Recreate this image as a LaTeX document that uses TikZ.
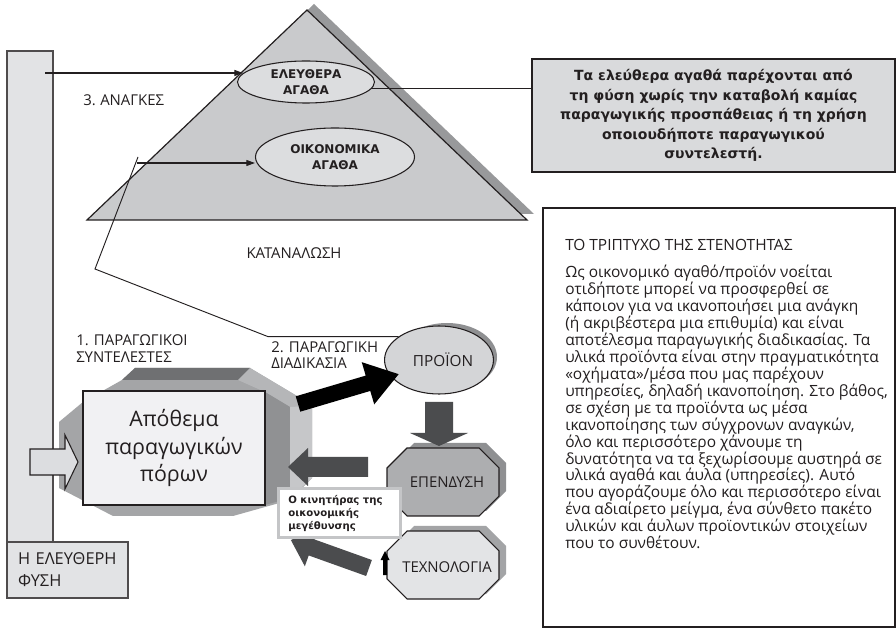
\documentclass[tikz,border=0pt]{standalone}
\usepackage{fontspec}
\setmainfont{Open Sans}
\newfontfamily\vbold{DejaVu Sans}
\usetikzlibrary{arrows.meta,shapes.geometric,calc}
\definecolor{ink}{HTML}{231F20}
\definecolor{tri}{HTML}{C9CACC}
\definecolor{trish}{HTML}{98999B}
\definecolor{barf}{HTML}{E2E3E5}
\definecolor{ellf}{HTML}{DCDDDF}
\definecolor{gboxf}{HTML}{D9DADC}
\definecolor{prodf}{HTML}{D4D5D7}
\definecolor{shd}{HTML}{8F9092}
\definecolor{invf}{HTML}{ADAEB0}
\definecolor{techf}{HTML}{E3E4E6}
\definecolor{techsh}{HTML}{A3A4A6}
\definecolor{darkarr}{HTML}{4B4C4E}
\definecolor{prmid}{HTML}{A4A5A7}
\definecolor{prdark}{HTML}{6F7072}
\definecolor{prlight}{HTML}{B5B6B8}
\definecolor{prrdark}{HTML}{909193}
\definecolor{prrlight}{HTML}{C6C7C9}
\definecolor{stockf}{HTML}{F1F1F3}
\definecolor{engb}{HTML}{C4C5C7}
\definecolor{hollowf}{HTML}{DCDDE0}
\newcommand{\blockarr}[7]{%
  \begin{scope}[shift={#2}, rotate=#3]
    \path[#1] (0,-#5/2) -- (#4-#7,-#5/2) -- (#4-#7,-#6/2) -- (#4,0) -- (#4-#7,#6/2) -- (#4-#7,#5/2) -- (0,#5/2) -- cycle;
  \end{scope}}
\tikzset{
  lbl/.style={font=\fontsize{11.2}{13}\selectfont, align=left, inner sep=0pt, text=ink},
  ellst/.style={ellipse, draw=ink, line width=0.8pt, fill=ellf, inner sep=0pt, align=center, text=ink, font=\vbold\bfseries\fontsize{9}{11.5}\selectfont},
  barst/.style={draw=ink!80, line width=0.9pt, fill=barf, text=ink},
  thinarr/.style={draw=ink, line width=0.8pt, -{Triangle[length=6.5pt,width=4.5pt]}},
  thinline/.style={draw=ink, line width=0.7pt},
  pics/octo/.style={code={\path[pic actions] (-36,-34) -- (36,-34) -- (56,-14) -- (56,14) -- (36,34) -- (-36,34) -- (-56,14) -- (-56,-14) -- cycle;}}
}
\begin{document}
\begin{tikzpicture}[x=0.75pt,y=-0.75pt]
\useasboundingbox (0,0) rectangle (896,630);
\fill[white] (0,0) rectangle (896,630);

% left bar and nature box
\node[barst, minimum width=34.5pt, minimum height=368.25pt] (bar) at (30,296.5) {};
\node[barst, minimum width=90.75pt, minimum height=42pt, inner xsep=4pt, text width=82pt, align=left, font=\fontsize{12.3}{16.5}\selectfont] (nature) at (67.5,570) {\hspace*{4pt}Η ΕΛΕΥΘΕΡΗ\\\hspace*{4pt}ΦΥΣΗ};

% triangle
\fill[trish] (314,4) -- (534,214) -- (94,214) -- cycle;
\draw[fill=tri, line width=0.9pt, draw=ink] (307,10) -- (527,220) -- (87,220) -- cycle;

% ellipses in the triangle
\node[ellst, minimum width=102.75pt, minimum height=31.5pt] (elef) at (306,82) {ΕΛΕΥΘΕΡΑ\\ΑΓΑΘΑ};
\node[ellst, minimum width=119.25pt, minimum height=43.5pt] (oik) at (335,157) {ΟΙΚΟΝΟΜΙΚΑ\\ΑΓΑΘΑ};

% grey note box
\node[draw=ink, fill=gboxf, line width=0.9pt, minimum width=272.25pt, minimum height=84.75pt, align=center, text=ink, font=\vbold\bfseries\fontsize{10.5}{14.6}\selectfont] (gb) at (713.5,115.5) {Τα ελεύθερα αγαθά παρέχονται από\\τη φύση χωρίς την καταβολή καμίας\\παραγωγικής προσπάθειας ή τη χρήση\\οποιουδήποτε παραγωγικού\\συντελεστή.};

% connectors at the top
\coordinate (a1) at (45,73);
\draw[thinarr] (a1) -- (a1 -| elef.172);
\draw[thinline] (elef.-6) -- (elef.-6 -| gb.west);
\coordinate (a2) at (137,163);
\draw[thinarr] (a2) -- (a2 -| oik.west);

% labels
\node[lbl, anchor=west] (needs) at (83,100) {3.\hspace{0.3em}ΑΝΑΓΚΕΣ};
\node[lbl] (cons) at (294,253) {ΚΑΤΑΝΑΛΩΣΗ};
\node[lbl, anchor=west] (pf) at (76,348.5) {1. ΠΑΡΑΓΩΓΙΚΟΙ\\ΣΥΝΤΕΛΕΣΤΕΣ};
\node[lbl, anchor=west, font=\fontsize{11.2}{12}\selectfont] (pp) at (271,355.5) {2. ΠΑΡΑΓΩΓΙΚΗ\\ΔΙΑΔΙΚΑΣΙΑ};

% product ellipse
\node[ellipse, fill=shd, minimum width=75pt, minimum height=51pt] (prodsh) at (447,357) {};
\node[ellipse, draw=ink, line width=0.8pt, fill=prodf, minimum width=75pt, minimum height=51pt, text=ink, font=\fontsize{11.5}{12}\selectfont] (prod) at (439,360) {\hspace{6pt}ΠΡΟΪΟΝ};

% polyline from product back to needs
\coordinate (k1) at (268,338);
\coordinate (k2) at (95,269);
\coordinate (k3) at (138,157);
\draw[thinline] (prod.150) -- (k1 |- prod.150) -- (k2) -- (k3);

% prism behind the stock box
\fill[prmid] (59,422) -- (83,402) -- (122,380) -- (135,368) -- (250,368) -- (312,405) -- (312,478) -- (290,500) -- (233,516) -- (113,516) -- (59,488) -- cycle;
\fill[prdark] (122,380) -- (135,368) -- (250,368) -- (238,380) -- cycle;
\fill[prlight] (238,380) -- (250,368) -- (312,405) -- (290,407) -- (265,392) -- cycle;
\fill[prrdark] (265,392) -- (290,407) -- (290,498) -- (265,505) -- cycle;
\fill[prrlight] (290,407) -- (312,405) -- (312,478) -- (290,498) -- cycle;

\node[draw=ink, fill=stockf, line width=0.9pt, minimum width=136.5pt, minimum height=85.5pt, align=center, text=ink, font=\fontsize{16}{20.5}\selectfont] (stock) at (174,448) {Απόθεμα\\παραγωγικών\\πόρων};

% hollow arrow from nature into the stock
\blockarr{fill=hollowf, draw=ink, line width=0.8pt}{(30,462)}{0}{48}{26}{54}{13}

% octagons
\pic[fill=shd] at (450,477) {octo};
\pic[draw=ink, fill=invf, line width=0.8pt] at (443,482) {octo};
\node[lbl] (inv) at (447,482) {ΕΠΕΝΔΥΣΗ};
\pic[fill=techsh] at (450,560) {octo};
\pic[draw=ink, fill=techf, line width=0.8pt] at (443,565) {octo};
\node[lbl] (tech) at (447,567) {ΤΕΧΝΟΛΟΓΙΑ};

% block arrows
\blockarr{fill=black}{(298,404)}{16.5}{105}{16}{44}{32}
\blockarr{fill=darkarr}{(439,402)}{-90}{44}{28}{58}{13}
\blockarr{fill=darkarr}{(368,467)}{180}{80}{20}{38}{20}
\blockarr{fill=darkarr}{(369,568)}{160.3}{83}{17}{40}{22}
\blockarr{fill=black}{(385,575)}{90}{24}{4}{9}{9}

% engine box
\node[draw=engb, line width=2.25pt, fill=white, minimum width=91.5pt, minimum height=36.75pt, inner xsep=7pt, text width=76pt, align=left, text=ink, font=\vbold\bfseries\fontsize{7.6}{9.75}\selectfont] (engine) at (339,513.5) {Ο κινητήρας της\\οικονομικής\\μεγέθυνσης};

% right text box
\node[draw=ink, line width=1.5pt, minimum width=264pt, minimum height=314.25pt] (tbox) at (719,417.5) {};
\node[lbl, anchor=west, font=\fontsize{11.6}{12.7}\selectfont] (ttl) at (565,245) {ΤΟ ΤΡΙΠΤΥΧΟ ΤΗΣ ΣΤΕΝΟΤΗΤΑΣ};
\node[lbl, anchor=north west, font=\fontsize{11.6}{12.7}\selectfont] (body) at (565,265) {Ως οικονομικό αγαθό/προϊόν νοείται\\οτιδήποτε μπορεί να προσφερθεί σε\\κάποιον για να ικανοποιήσει μια ανάγκη\\(ή ακριβέστερα μια επιθυμία) και είναι\\αποτέλεσμα παραγωγικής διαδικασίας. Τα\\υλικά προϊόντα είναι στην πραγματικότητα\\«οχήματα»/μέσα που μας παρέχουν\\υπηρεσίες, δηλαδή ικανοποίηση. Στο βάθος,\\σε σχέση με τα προϊόντα ως μέσα\\ικανοποίησης των σύγχρονων αναγκών,\\όλο και περισσότερο χάνουμε τη\\δυνατότητα να τα ξεχωρίσουμε αυστηρά σε\\υλικά αγαθά και άυλα (υπηρεσίες). Αυτό\\που αγοράζουμε όλο και περισσότερο είναι\\ένα αδιαίρετο μείγμα, ένα σύνθετο πακέτο\\υλικών και άυλων προϊοντικών στοιχείων\\που το συνθέτουν.};
\end{tikzpicture}
\end{document}
